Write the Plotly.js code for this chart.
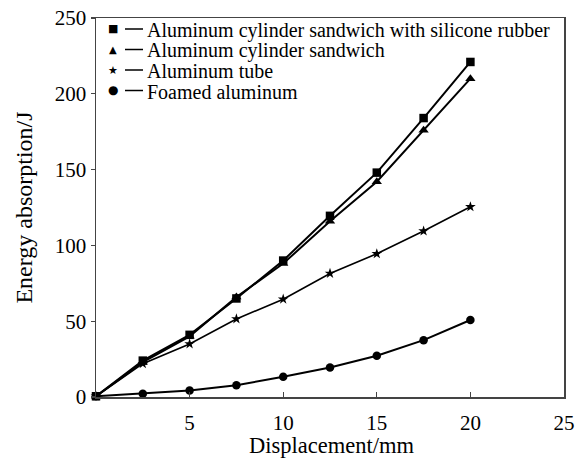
<!DOCTYPE html>
<html>
<head>
<meta charset="utf-8">
<script src="https://cdn.plot.ly/plotly-3.0.1.min.js"></script>
<style>html,body{margin:0;padding:0;background:#fff;}#chart{width:585px;height:459px;}</style>
</head>
<body>
<div id="chart"></div>
<script>
var displacement = [0, 2.5, 5, 7.5, 10, 12.5, 15, 17.5, 20];
var cylSilicone = [0.5, 24, 41, 65, 90, 119.5, 148, 184, 221];
var cylSandwich = [0.5, 23, 40, 66, 88, 116, 142, 176, 210];
var aluTube = [0.5, 22, 35, 51.5, 64.5, 81.5, 94.5, 109.5, 125.5];
var foamedAlu = [0.5, 2.2, 4.3, 7.8, 13.3, 19.5, 27.2, 37.5, 50.8];
var seriesNames = ["Aluminum cylinder sandwich with silicone rubber", "Aluminum cylinder sandwich", "Aluminum tube", "Foamed aluminum"];
var seriesValues = [cylSilicone, cylSandwich, aluTube, foamedAlu];
var symbols = ["square", "triangle-up", "star", "circle"];
var markerSizes = [8.5, 9, 8, 8.5];
var lineWidths = [2, 2, 1.6, 2];
var glyphs = ["\u25A0", "\u25B2", "\u2605", "\u25CF"];
var glyphSizes = [11, 10, 11, 12];
var xTicks = [0, 5, 10, 15, 20, 25];
var xTickLabels = ["", "5", "10", "15", "20", "25"];
var yTicks = [0, 50, 100, 150, 200, 250];
var xTitle = "Displacement/mm";
var yTitle = "Energy absorption/J";

var serif = "Liberation Serif, Times New Roman, serif";
var traces = seriesValues.map(function (vals, i) {
  return {
    x: displacement, y: vals, type: "scatter", mode: "lines+markers",
    name: seriesNames[i], showlegend: false, cliponaxis: false,
    line: {color: "#000", width: lineWidths[i]},
    marker: {symbol: symbols[i], size: markerSizes[i], color: "#000"}
  };
});

// custom legend (pixel layout -> paper coords)
var L = 96, T = 18, W = 468, H = 379;
function px(x) { return (x - L) / W; }
function py(y) { return (T + H - y) / H; }
var rowY = [29, 49.5, 70, 90.5];
var annotations = [], shapes = [];
seriesNames.forEach(function (n, i) {
  annotations.push({xref: "paper", yref: "paper", x: px(113), y: py(rowY[i]), text: glyphs[i],
    showarrow: false, xanchor: "center", yanchor: "middle",
    font: {family: "DejaVu Sans", size: glyphSizes[i], color: "#000"}});
  shapes.push({type: "line", xref: "paper", yref: "paper", x0: px(125), x1: px(143),
    y0: py(rowY[i]), y1: py(rowY[i]), line: {color: "#000", width: 1.5}});
  annotations.push({xref: "paper", yref: "paper", x: px(146), y: py(rowY[i] + 1), text: n,
    showarrow: false, xanchor: "left", yanchor: "middle", borderpad: 0,
    font: {family: serif, size: 20, color: "#000"}});
});
// x axis title as annotation (placed below the tick labels)
annotations.push({xref: "paper", yref: "paper", x: px(331), y: py(445), text: xTitle,
  showarrow: false, xanchor: "center", yanchor: "middle", borderpad: 0,
  font: {family: serif, size: 22.5, color: "#000"}});

var layout = {
  width: 585, height: 459,
  margin: {l: L, r: 585 - L - W, t: T, b: 459 - T - H, pad: 0},
  paper_bgcolor: "#fff", plot_bgcolor: "#fff",
  font: {family: serif, color: "#000"},
  showlegend: false,
  xaxis: {
    range: [0, 25], tickvals: xTicks, ticktext: xTickLabels,
    ticks: "inside", ticklen: 5, tickwidth: 1.2, tickcolor: "#444",
    showline: true, linecolor: "#444", linewidth: 1.5, mirror: true,
    showgrid: false, zeroline: false, ticklabelstandoff: 6,
    tickfont: {family: serif, size: 21, color: "#000"}
  },
  yaxis: {
    range: [0, 250], tickvals: yTicks,
    ticks: "outside", ticklen: 4, tickwidth: 1.2, tickcolor: "#444",
    showline: true, linecolor: "#444", linewidth: 1.5, mirror: true,
    showgrid: false, zeroline: false,
    tickfont: {family: serif, size: 21, color: "#000"},
    title: {text: yTitle, font: {family: serif, size: 24, color: "#000"}, standoff: 15}
  },
  annotations: annotations,
  shapes: shapes
};
Plotly.newPlot("chart", traces, layout, {displayModeBar: false, staticPlot: true});
</script>
</body>
</html>
